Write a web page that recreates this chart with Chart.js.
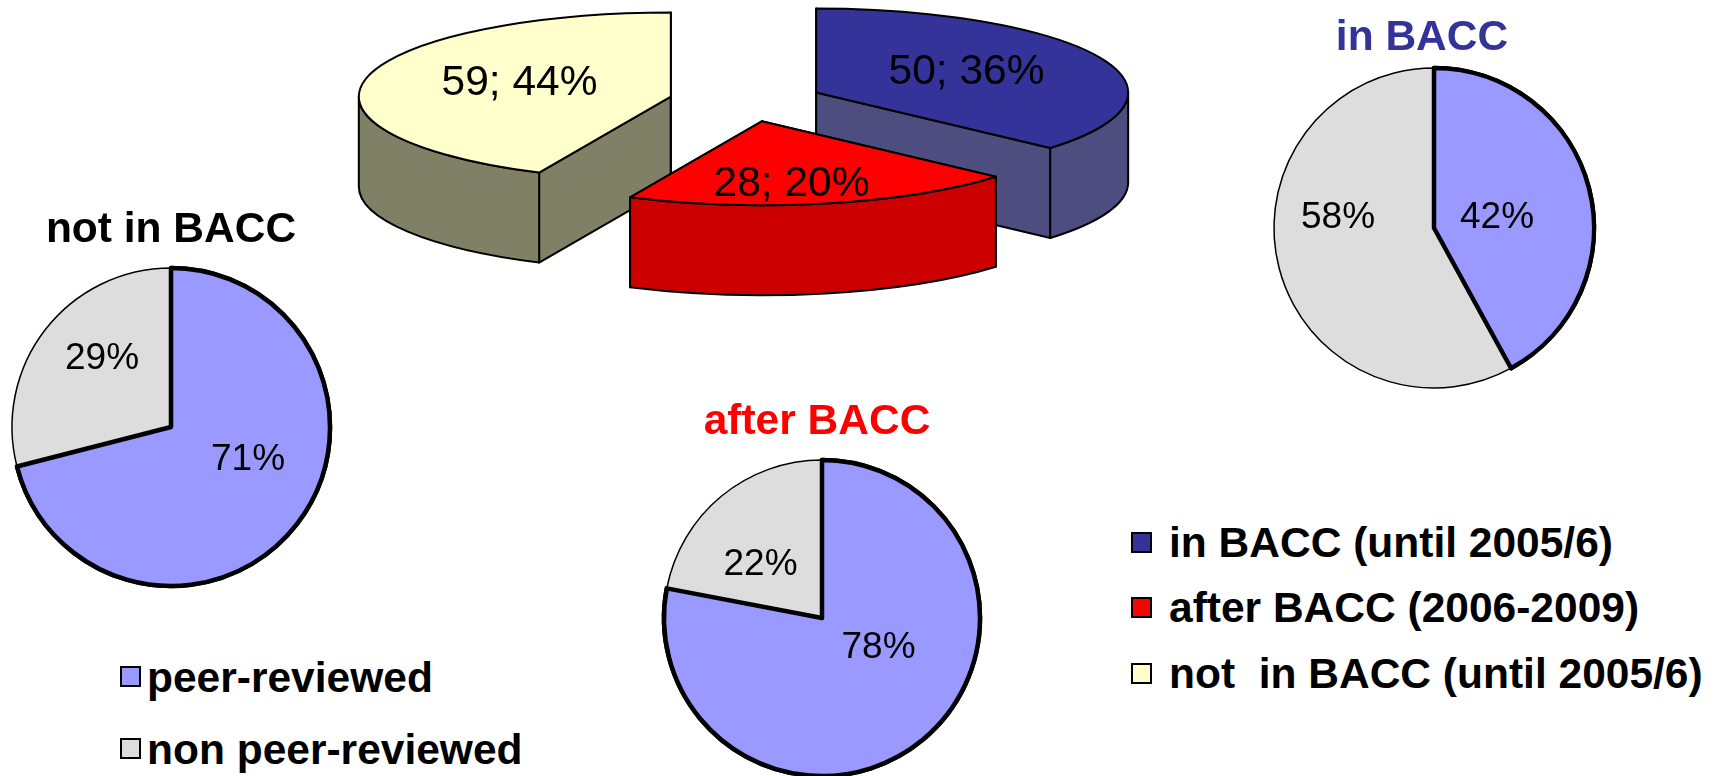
<!DOCTYPE html>
<html>
<head>
<meta charset="utf-8">
<title>BACC publications</title>
<script src="https://cdn.jsdelivr.net/npm/chart.js@4"></script>
<style>
    html, body { margin: 0; padding: 0; background: #fff; overflow: hidden; width: 1721px; height: 776px; }
    body { position: relative; font-family: "Liberation Sans", Arial, sans-serif; }
    canvas { position: absolute; }
    .txt { position: absolute; font-weight: bold; font-size: 42.5px; line-height: 1; white-space: pre; transform: translateY(-50%); }
    .title { transform: translate(-50%, -50%); }
    .swatch { position: absolute; box-sizing: border-box; border: 2px solid #000; }
</style>
</head>
<body>
<canvas id="mainPie"></canvas>
<canvas id="notInPie"></canvas>
<canvas id="inPie"></canvas>
<canvas id="afterPie"></canvas>
<script>
// Publication groups (3D pie)
const groupNames = ['in BACC', 'after BACC', 'not in BACC'];
const groupCounts = [50, 28, 59];
const groupPercents = [36, 20, 44];

// Review status per group (small pies), clockwise from 12 o'clock
const reviewNames = ['peer-reviewed', 'non peer-reviewed'];
const notInBaccShares = [71, 29];
const inBaccShares = [42, 58];
const afterBaccShares = [78, 22];

// Legend texts
const groupLegend = ['in BACC (until 2005/6)', 'after BACC (2006-2009)', 'not  in BACC (until 2005/6)'];

// Colours
const groupColors = ['#333399', '#FF0000', '#FFFFCC'];
const groupSideColors = ['#4D4D80', '#CC0000', '#808066'];
const reviewColors = ['#9999FF', '#DDDDDD'];

const FONT = '"Liberation Sans", Arial, sans-serif';

// 3D look of the big pie
const TILT = 0.269;
const DEPTH = 90;
const EXPLODE = 77;

// Draws the arcs of the big pie as exploded 3D slices, using the angles Chart.js worked out
const tiltedPiePlugin = {
    id: 'tiltedPie',
    beforeDatasetsDraw(chart) {
        const ctx = chart.ctx;
        const arcs = chart.getDatasetMeta(0).data;
        // back slices first, the front one last
        [2, 0, 1].forEach(i => {
            const arc = arcs[i];
            const mid = (arc.startAngle + arc.endAngle) / 2;
            const x = arc.x + Math.cos(mid) * EXPLODE;
            const y = arc.y + Math.sin(mid) * EXPLODE * TILT;
            const rx = arc.outerRadius;
            const ry = rx * TILT;

            ctx.save();
            ctx.lineWidth = 2;
            ctx.lineJoin = 'round';
            ctx.strokeStyle = '#000';
            ctx.fillStyle = groupSideColors[i];

            // straight cut walls
            [arc.startAngle, arc.endAngle].forEach(a => {
                const ex = x + Math.cos(a) * rx;
                const ey = y + Math.sin(a) * ry;
                ctx.beginPath();
                ctx.moveTo(x, y);
                ctx.lineTo(ex, ey);
                ctx.lineTo(ex, ey + DEPTH);
                ctx.lineTo(x, y + DEPTH);
                ctx.closePath();
                ctx.fill();
                ctx.stroke();
            });

            // outer wall, only the part facing the viewer
            const from = Math.max(arc.startAngle, 0);
            const to = Math.min(arc.endAngle, Math.PI);
            if (to > from) {
                ctx.beginPath();
                ctx.ellipse(x, y, rx, ry, 0, from, to);
                ctx.ellipse(x, y + DEPTH, rx, ry, 0, to, from, true);
                ctx.closePath();
                ctx.fill();
                ctx.stroke();
            }

            // top face
            ctx.fillStyle = groupColors[i];
            ctx.beginPath();
            ctx.moveTo(x, y);
            ctx.ellipse(x, y, rx, ry, 0, arc.startAngle, arc.endAngle);
            ctx.closePath();
            ctx.fill();
            ctx.stroke();
            ctx.restore();
        });
        return false;
    }
};

// Redraws the peer-reviewed slice so its heavy outline stays on top
const heavySlicePlugin = {
    id: 'heavySlice',
    afterDatasetsDraw(chart) {
        chart.getDatasetMeta(0).data[0].draw(chart.ctx);
    }
};

// Slice captions, placed relative to the pie centre
const sliceTextPlugin = {
    id: 'sliceText',
    afterDraw(chart, args, opts) {
        const ctx = chart.ctx;
        const arcs = chart.getDatasetMeta(0).data;
        ctx.save();
        ctx.font = opts.size + 'px ' + FONT;
        ctx.fillStyle = '#000';
        ctx.textAlign = 'center';
        ctx.textBaseline = 'middle';
        opts.texts.forEach((t, i) => {
            ctx.fillText(t, arcs[i].x + opts.spots[i][0], arcs[i].y + opts.spots[i][1]);
        });
        ctx.restore();
    }
};

function createPie(id, cx, cy, radius, values, colors, borders, texts, spots, textSize, extraPlugins, pad) {
    const canvas = document.getElementById(id);
    const half = radius + pad;
    const box = half * 2;
    canvas.style.left = (cx - half) + 'px';
    canvas.style.top = (cy - half) + 'px';
    canvas.width = box;
    canvas.height = box;
    canvas.style.width = box + 'px';
    canvas.style.height = box + 'px';

    return new Chart(canvas.getContext('2d'), {
        type: 'pie',
        data: {
            labels: reviewNames,
            datasets: [{
                data: values,
                backgroundColor: colors,
                borderColor: '#000',
                borderWidth: borders,
                borderJoinStyle: 'round',
                radius: radius
            }]
        },
        options: {
            responsive: false,
            animation: false,
            layout: { padding: 0 },
            plugins: {
                legend: { display: false },
                tooltip: { enabled: false },
                title: { display: false },
                sliceText: { texts: texts, spots: spots, size: textSize }
            }
        },
        plugins: [sliceTextPlugin].concat(extraPlugins)
    });
}

// Big pie
createPie('mainPie', 745.5, 101, 312, groupCounts, groupColors, 0,
    groupCounts.map((c, i) => c + '; ' + groupPercents[i] + '%'),
    [[220.5, -29], [45.5, 83], [-226.5, -18]], 42.5, [tiltedPiePlugin], 100);

// Small pies
createPie('notInPie', 171, 427, 159, notInBaccShares, reviewColors, [4.5, 1.5],
    notInBaccShares.map(v => v + '%'), [[77, 33], [-69, -68]], 37, [heavySlicePlugin], 12);
createPie('inPie', 1434, 228, 160, inBaccShares, reviewColors, [4.5, 1.5],
    inBaccShares.map(v => v + '%'), [[63, -10], [-96, -10]], 37, [heavySlicePlugin], 12);
createPie('afterPie', 821.5, 618, 158, afterBaccShares, reviewColors, [4.5, 1.5],
    afterBaccShares.map(v => v + '%'), [[56.5, 30], [-61.5, -53]], 37, [heavySlicePlugin], 12);

// Titles and legends are plain text on the page
function addText(text, x, y, color, cls) {
    const el = document.createElement('div');
    el.className = cls;
    el.textContent = text;
    el.style.left = x + 'px';
    el.style.top = y + 'px';
    el.style.color = color;
    document.body.appendChild(el);
}

function addSwatch(x, y, w, h, color) {
    const el = document.createElement('div');
    el.className = 'swatch';
    el.style.left = x + 'px';
    el.style.top = y + 'px';
    el.style.width = w + 'px';
    el.style.height = h + 'px';
    el.style.background = color;
    document.body.appendChild(el);
}

addText(groupNames[2], 171, 228, '#000', 'txt title');
addText(groupNames[0], 1422, 36, groupColors[0], 'txt title');
addText(groupNames[1], 817, 420, groupColors[1], 'txt title');

const groupLegendY = [543, 608, 674];
groupLegend.forEach((t, i) => {
    addSwatch(1131, groupLegendY[i] - 11, 21, 21, groupColors[i]);
    addText(t, 1169, groupLegendY[i], '#000', 'txt');
});

const reviewLegendY = [678, 750];
reviewNames.forEach((t, i) => {
    addSwatch(120, reviewLegendY[i] - 12, 21, 21, reviewColors[i]);
    addText(t, 147, reviewLegendY[i], '#000', 'txt');
});
</script>
</body>
</html>
